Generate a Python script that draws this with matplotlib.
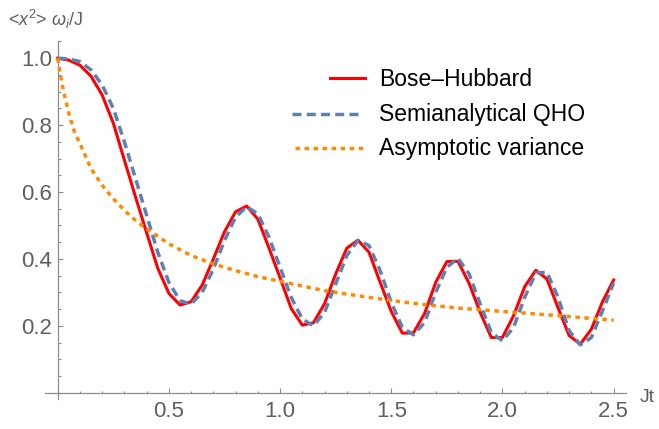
import matplotlib
matplotlib.use("Agg")
import matplotlib.pyplot as plt
from matplotlib.lines import Line2D
from matplotlib.ticker import MultipleLocator, FixedLocator

# ==============================================================================
# DADOS
# ==============================================================================
# Bose-Hubbard: amostrado a cada 0.05 em Jt
t_bh = [i * 0.05 for i in range(51)]
var_bh = [
    1.000, 0.994, 0.979, 0.946, 0.890, 0.806, 0.695, 0.585, 0.478, 0.372,
    0.297, 0.262, 0.272, 0.322, 0.400, 0.481, 0.541, 0.558, 0.519, 0.433,
    0.343, 0.252, 0.202, 0.209, 0.266, 0.355, 0.432, 0.456, 0.420, 0.330,
    0.243, 0.178, 0.179, 0.237, 0.330, 0.392, 0.393, 0.327, 0.240, 0.165,
    0.165, 0.230, 0.317, 0.366, 0.340, 0.254, 0.171, 0.145, 0.190, 0.272,
    0.337,
]

# QHO semianalítico
t_qho = [i * 0.05 for i in range(51)]
var_qho = [
    1.000, 0.998, 0.990, 0.965, 0.920, 0.850, 0.750, 0.640, 0.530, 0.420,
    0.330, 0.275, 0.265, 0.300, 0.370, 0.455, 0.525, 0.556, 0.535, 0.465,
    0.375, 0.285, 0.220, 0.200, 0.240, 0.325, 0.410, 0.455, 0.440, 0.365,
    0.270, 0.195, 0.173, 0.210, 0.300, 0.375, 0.402, 0.355, 0.265, 0.180,
    0.155, 0.195, 0.285, 0.358, 0.360, 0.285, 0.185, 0.143, 0.165, 0.245,
    0.328,
]

# Variância assintótica
t_asy = [0, 0.01, 0.025, 0.05, 0.075, 0.1, 0.15, 0.2, 0.25, 0.3, 0.35, 0.4,
         0.5, 0.6, 0.7, 0.8, 0.9, 1.0, 1.2, 1.4, 1.6, 1.8, 2.0, 2.2, 2.4, 2.5]
var_asy = [1.0, 0.96, 0.905, 0.835, 0.78, 0.745, 0.67, 0.62, 0.58, 0.545,
           0.515, 0.49, 0.445, 0.41, 0.385, 0.365, 0.347, 0.333, 0.305, 0.285,
           0.267, 0.253, 0.243, 0.233, 0.222, 0.217]

x_ticks = [0.5, 1.0, 1.5, 2.0, 2.5]
y_ticks = [0.2, 0.4, 0.6, 0.8, 1.0]
legendas = ["Bose\u2013Hubbard", "Semianalytical QHO", "Asymptotic variance"]

W, H = 659, 429
COR_EIXO = "#8c8c8c"
COR_TEXTO = "#5f5f5f"

plt.rcParams["font.family"] = ["Liberation Sans", "DejaVu Sans"]
plt.rcParams["mathtext.fontset"] = "custom"
plt.rcParams["mathtext.rm"] = "Liberation Sans"
plt.rcParams["mathtext.it"] = "Liberation Sans:italic"


def px(x, y):
    """Converte pixels (origem no topo) em fração da figura."""
    return x / W, 1 - y / H


def plotar():
    fig = plt.figure(figsize=(W / 100, H / 100), dpi=100)
    ax = fig.add_axes([0.069, 0.069, 0.8807, 0.8343])

    ax.plot(t_bh, var_bh, color="#ff0000", linewidth=2.2, zorder=3)
    ax.plot(t_qho, var_qho, color="#5e81b5", linewidth=2.5,
            dashes=(2.6, 1.5), zorder=4)
    ax.plot(t_asy, var_asy, color="#ff8a00", linewidth=2.5,
            dashes=(1.3, 1.3), zorder=5)

    ax.set_xlim(-0.055, 2.555)
    ax.set_ylim(-0.02, 1.05)

    # eixos no estilo Mathematica, cruzando na origem
    for lado in ["top", "right"]:
        ax.spines[lado].set_visible(False)
    for lado in ["left", "bottom"]:
        ax.spines[lado].set_position(("data", 0))
        ax.spines[lado].set_color(COR_EIXO)
        ax.spines[lado].set_linewidth(0.9)

    ax.xaxis.set_major_locator(FixedLocator(x_ticks))
    ax.yaxis.set_major_locator(FixedLocator(y_ticks))
    ax.xaxis.set_minor_locator(MultipleLocator(0.1))
    ax.yaxis.set_minor_locator(MultipleLocator(0.05))
    ax.set_xticklabels([f"{v:.1f}" for v in x_ticks])
    ax.set_yticklabels([f"{v:.1f}" for v in y_ticks])

    ax.tick_params(which="both", direction="in", color=COR_EIXO,
                   labelcolor=COR_TEXTO, labelsize=16, width=0.8)
    ax.tick_params(which="major", length=3.3)
    ax.tick_params(which="minor", length=1.8)
    ax.tick_params(axis="x", pad=6)
    ax.tick_params(axis="y", pad=4)

    # rótulos dos eixos
    fig.text(*px(8, 26), r"<$x^2$> $\omega_i$/J", fontsize=13,
             color=COR_TEXTO, ha="left", va="baseline")
    fig.text(*px(640, 402), "Jt", fontsize=14, color=COR_TEXTO,
             ha="left", va="baseline")

    # legenda desenhada à mão
    amostras = [
        dict(x=(330, 365), y=78.3, color="#ff0000", linewidth=2.2),
        dict(x=(292, 362), y=114, color="#5e81b5", linewidth=2.5,
             dashes=(2.6, 1.5)),
        dict(x=(295, 363), y=148.3, color="#ff8a00", linewidth=2.5,
             dashes=(1.3, 1.3)),
    ]
    bases = [86.5, 121.5, 154.5]
    for amostra, texto, base in zip(amostras, legendas, bases):
        x0, x1 = amostra.pop("x")
        yy = amostra.pop("y")
        (a0, b0), (a1, b1) = px(x0, yy), px(x1, yy)
        fig.add_artist(Line2D([a0, a1], [b0, b1], transform=fig.transFigure,
                              **amostra))
        fig.text(*px(379, base), texto, fontsize=16.5, color="black",
                 ha="left", va="baseline")

    fig.savefig("out.png", dpi=100)


if __name__ == "__main__":
    plotar()
